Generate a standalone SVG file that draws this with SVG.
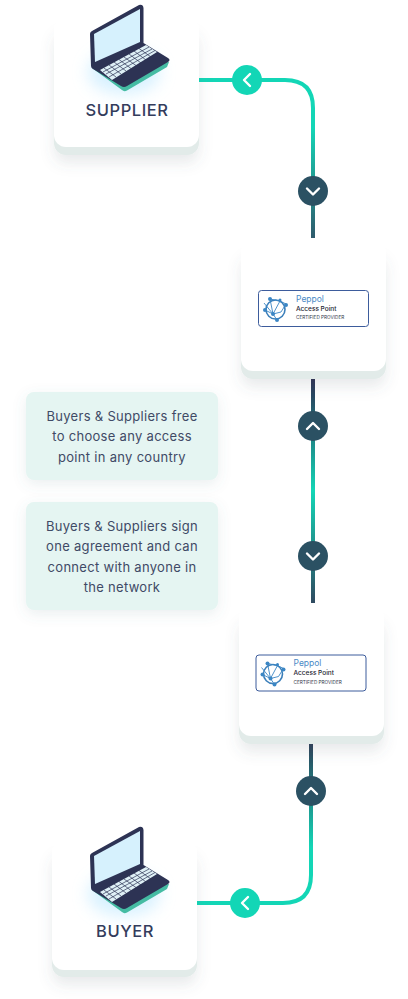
<svg xmlns="http://www.w3.org/2000/svg" width="408" height="999" viewBox="0 0 408 999">
<style>
.card{fill:#fff}
.lip{fill:#e2ebe9}
.note{fill:#e5f5f2;filter:url(#soft)}
.nt{font-family:"Inter","Liberation Sans",sans-serif;font-size:13px;fill:#3f4a66;text-anchor:middle;letter-spacing:.3px}
.lab{font-family:"Inter","Liberation Sans",sans-serif;font-size:16.5px;font-weight:500;fill:#333c5c;text-anchor:middle;letter-spacing:.55px}
.chev{fill:none;stroke:#fff;stroke-width:2.4;stroke-linecap:round;stroke-linejoin:round}
.teal{fill:#13d6b6}
.dark{fill:#2b5163}
.bd{font-family:"Inter","Liberation Sans",sans-serif}
.line{fill:none;stroke-width:4}
.net{fill:none;stroke:#3b86c4;stroke-width:.9}
.ring{fill:none;stroke:#3b7fba;stroke-width:1.6}
.dot{fill:#3b86c4}
</style>
<defs>
<filter id="soft" x="-30%" y="-30%" width="160%" height="170%"><feDropShadow dx="0" dy="4" stdDeviation="7" flood-color="#5a7a80" flood-opacity=".12"/></filter>
<filter id="big" x="-30%" y="-30%" width="160%" height="170%"><feDropShadow dx="0" dy="8" stdDeviation="7" flood-color="#50646e" flood-opacity=".13"/></filter>
<filter id="glowf" x="-60%" y="-60%" width="220%" height="220%"><feGaussianBlur stdDeviation="8"/></filter>
<linearGradient id="g1" gradientUnits="userSpaceOnUse" x1="0" y1="80" x2="0" y2="238"><stop offset="0" stop-color="#13d6b6"/><stop offset=".3" stop-color="#13d6b6"/><stop offset="1" stop-color="#2f5a6c"/></linearGradient>
<linearGradient id="g2" gradientUnits="userSpaceOnUse" x1="0" y1="379" x2="0" y2="603"><stop offset="0" stop-color="#2c2f52"/><stop offset=".5" stop-color="#13d6b6"/><stop offset="1" stop-color="#2f4a60"/></linearGradient>
<linearGradient id="g3" gradientUnits="userSpaceOnUse" x1="0" y1="744" x2="0" y2="903"><stop offset="0" stop-color="#2c3f58"/><stop offset=".65" stop-color="#13d6b6"/><stop offset="1" stop-color="#13d6b6"/></linearGradient>
<g id="laptop">
<ellipse cx="124" cy="72" rx="36" ry="22" fill="#c6ebff" opacity=".7" filter="url(#glowf)"/>
<path d="M92 68 L122 90 Q124 92 127 90.500 L167 67 L169 62 L92 66 Z" fill="#45bca3"/>
<path d="M90 34 Q90 32 92 31 L139 5 Q143 4 143.500 8 L143.500 43 L168 58 Q171 60 168 62 L127 86 Q124 88 121 86 L93 69 Q91 68 91 66 Z" fill="#2d3354"/>
<path d="M94 34 L140 9 L140 42 L95 62 Z" fill="#d6f1fd"/>
<path d="M100 70 L146 45 L157 52 L112 80 Z" fill="#dff0f6"/>
<g stroke="#2d3354" stroke-width=".7" fill="none">
<path d="M103 72 L149 47M106 74 L152 49M109 77 L155 50.500"/>
<path d="M104 68 L116 77M109 65 L121 74M114 62 L126 71M119 59.500 L131 68.500M124 57 L136 65.500M129 54 L141 63M134 51 L146 60M139 48.500 L151 57"/>
</g>
</g>
<g id="badge">
<rect x="258.500" y="290.500" width="110" height="36" rx="3" fill="#fff" stroke="#3d5c9c" stroke-width="1"/>
<circle class="ring" cx="275.500" cy="309.500" r="9.500"/>
<path class="net" d="M265 310 L273 314 L280 301 L286 304 M273 314 L281 312 L286 304 M273 314 L277 320 M270 299 L273 314 M270 299 L280 301 M273 314 L264 303"/>
<circle class="dot" cx="270" cy="299" r="2"/><circle class="dot" cx="280" cy="300" r="1.500"/><circle class="dot" cx="286" cy="305" r="2"/><circle class="dot" cx="265" cy="310" r="2"/><circle class="dot" cx="277" cy="320" r="2"/><circle class="dot" cx="273" cy="314" r="2"/>
<text class="bd" x="296" y="301.500" font-size="8.500" fill="#4b8ac6">Peppol</text>
<text class="bd" x="296" y="310.500" font-size="6.500" font-weight="500" fill="#1c2230">Access Point</text>
<text class="bd" x="296" y="319" font-size="4.700" fill="#30364a">CERTIFIED PROVIDER</text>
</g>
</defs>

<g id="connectors">
<path class="line" stroke="url(#g1)" d="M199 80 H285 Q313 80 313 108 V238"/>
<path class="line" stroke="url(#g2)" d="M313 379 V603"/>
<path class="line" stroke="url(#g3)" d="M311 744 V875 Q311 903 283 903 H197"/>
<circle class="teal" cx="247" cy="80" r="15"/><path class="chev" d="M250 74 L244 80 L250 86"/>
<circle class="dark" cx="313" cy="191" r="15"/><path class="chev" d="M307 188.500 L313 194.500 L319 188.500"/>
<circle class="dark" cx="313" cy="426" r="15"/><path class="chev" d="M307 429 L313 423 L319 429"/>
<circle class="dark" cx="313" cy="556" r="15"/><path class="chev" d="M307 553.500 L313 559.500 L319 553.500"/>
<circle class="dark" cx="311" cy="791" r="15"/><path class="chev" d="M305 794 L311 788 L317 794"/>
<circle class="teal" cx="245" cy="903" r="15"/><path class="chev" d="M248 897 L242 903 L248 909"/>
</g>

<g id="supplier">
<rect class="lip" x="54" y="26" width="145" height="129" rx="12" filter="url(#big)"/>
<rect class="card" x="54" y="16" width="145" height="131" rx="12"/>
<use href="#laptop"/>
<text class="lab" x="127" y="116">SUPPLIER</text>
</g>

<g id="ap1">
<rect class="lip" x="241" y="250" width="145" height="129" rx="12" filter="url(#big)"/>
<rect class="card" x="241" y="240" width="145" height="131" rx="12"/>
<use href="#badge"/>
</g>

<g id="note1">
<rect class="note" x="26" y="392" width="192" height="88" rx="8"/>
<text class="nt" x="122" y="421">Buyers &amp; Suppliers free</text>
<text class="nt" x="122" y="441">to choose any access</text>
<text class="nt" x="122" y="462">point in any country</text>
</g>

<g id="note2">
<rect class="note" x="26" y="502" width="192" height="108" rx="8"/>
<text class="nt" x="122" y="531">Buyers &amp; Suppliers sign</text>
<text class="nt" x="122" y="551">one agreement and can</text>
<text class="nt" x="122" y="572">connect with anyone in</text>
<text class="nt" x="122" y="592">the network</text>
</g>

<g id="ap2">
<rect class="lip" x="239" y="615" width="145" height="129" rx="12" filter="url(#big)"/>
<rect class="card" x="239" y="605" width="145" height="131" rx="12"/>
<use href="#badge" x="-2.500" y="364.500"/>
</g>

<g id="buyer">
<rect class="lip" x="52" y="848" width="145" height="129" rx="12" filter="url(#big)"/>
<rect class="card" x="52" y="839" width="145" height="131" rx="12"/>
<use href="#laptop" y="822"/>
<text class="lab" x="125" y="937">BUYER</text>
</g>
</svg>
